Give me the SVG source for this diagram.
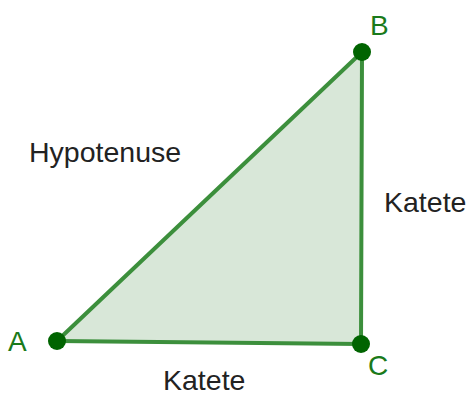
<svg xmlns="http://www.w3.org/2000/svg" width="471" height="396" viewBox="0 0 471 396">
<style>
.edge{stroke:#3c8f3c;stroke-width:4;fill:none;stroke-linecap:round}
.pt{fill:#006400}
.lbl{font-family:"Liberation Sans",Arial,sans-serif;font-size:28px;fill:#1a7a1a}
.txt{font-family:"Liberation Sans",Arial,sans-serif;font-size:28.5px;fill:#222}
</style>
<rect width="471" height="396" fill="#fff"/>
<polygon id="triangle" points="57,341 362,52 361,344" fill="#d8e7d8" stroke="none"/>
<g id="connectors">
<line class="edge" x1="57" y1="341" x2="362" y2="52"/>
<line class="edge" x1="362" y1="52" x2="361" y2="344"/>
<line class="edge" x1="361" y1="344" x2="57" y2="341"/>
</g>
<g id="A"><circle class="pt" cx="57" cy="341" r="9"/><text class="lbl" x="8" y="351">A</text></g>
<g id="B"><circle class="pt" cx="362" cy="52" r="9"/><text class="lbl" x="370" y="35">B</text></g>
<g id="C"><circle class="pt" cx="361" cy="344" r="9"/><text class="lbl" x="368" y="375">C</text></g>
<text class="txt" x="29" y="162">Hypotenuse</text>
<text class="txt" x="384" y="212">Katete</text>
<text class="txt" x="163" y="390">Katete</text>
</svg>
